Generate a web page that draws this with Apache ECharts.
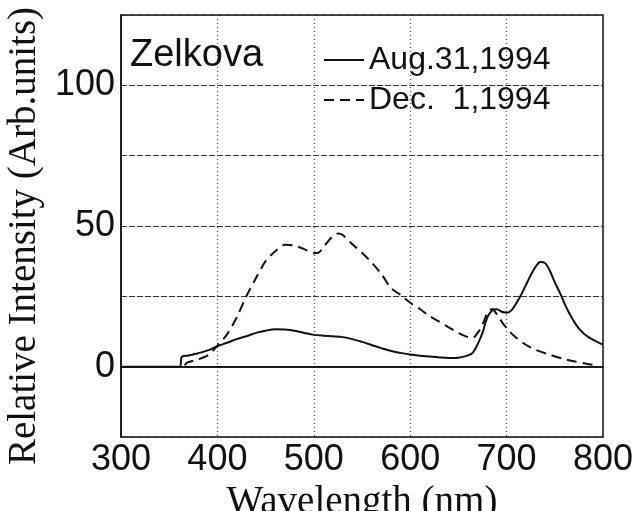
<!DOCTYPE html>
<html>
<head>
<meta charset="utf-8">
<script src="https://cdn.jsdelivr.net/npm/echarts@6/dist/echarts.min.js"></script>
<style>html,body{margin:0;padding:0;background:#fff}#c{width:640px;height:511px}</style>
</head>
<body>
<div id="c"></div>
<script>
const augX = [300,350,361,363,370,380,390,400,410,420,430,440,450,460,470,480,490,500,510,520,530,540,550,560,570,580,590,600,610,620,630,640,650,660,665,670,675,680,685,690,695,700,705,710,715,720,725,730,735,740,745,750,755,760,765,770,775,780,785,790,795,800];
const augY = [0,0,0,3.5,4,4.8,5.8,7.3,8.5,9.8,10.8,12,12.8,13.3,13.2,12.8,12,11.3,11,10.8,10.5,9.8,8.8,7.7,6.6,5.6,4.9,4.3,3.9,3.6,3.3,3.1,3.2,4.0,5,8,12,17.5,20,20.4,19.5,19.2,20,22.5,25.5,29,32.5,35.5,37.2,36.8,34,30,26.5,22.5,19,16,13.5,11.8,10.5,9.5,8.6,7.8];
const decX = [366,369,380,390,400,410,420,430,440,450,460,470,480,490,500,505,510,520,525,530,540,550,560,570,580,590,600,610,620,630,640,650,660,665,670,675,680,685,690,696,703,710,720,730,745,760,770,783,790];
const decY = [0.5,1.5,2.6,4,7.5,11.5,17.5,25,31.5,37.5,41,43.3,43,41.8,40.3,40.5,42.5,46.5,47.3,46.8,43.5,40.5,37,33,28,25.5,22.7,20.5,18,16,14,12,10.5,10.3,12,15,19,20.5,18.5,15.5,12.5,10.3,7.8,6,4.2,2.7,1.9,1,0.6];
const yLabels = [0,50,100];
const seriesNames = ['Aug.31,1994','Dec.  1,1994'];
const specimen = 'Zelkova';

const sans = 'Liberation Sans';
const serif = 'Liberation Serif';
const chart = echarts.init(document.getElementById('c'));
chart.setOption({
  animation: false,
  backgroundColor: '#fff',
  grid: {left: 121, right: 37, top: 15, bottom: 74, outerBoundsMode: 'none', containLabel: false,
    show: true, borderColor: '#111', borderWidth: 1.5, backgroundColor: 'transparent'},
  title: {text: specimen, left: 125, top: 32, textStyle: {fontFamily: sans, fontSize: 38, fontWeight: 'normal', color: '#111'}},
  legend: {
    left: 318, top: 37, orient: 'vertical', itemWidth: 40, itemHeight: 14, itemGap: 4,
    data: seriesNames,
    itemStyle: {opacity: 0},
    textStyle: {fontFamily: sans, fontSize: 32, color: '#111', lineHeight: 36}
  },
  xAxis: {
    type: 'value', min: 300, max: 800, interval: 100,
    name: 'Wavelength (nm)', nameLocation: 'middle', nameGap: 31,
    nameTextStyle: {fontFamily: serif, fontSize: 39, color: '#111'},
    axisLine: {show: true, lineStyle: {color: '#111', width: 1.5}},
    axisTick: {show: false},
    axisLabel: {fontFamily: sans, fontSize: 36, color: '#111', margin: 5},
    splitLine: {show: true, lineStyle: {color: '#444', type: [1, 3], width: 1.2}}
  },
  yAxis: {
    type: 'value', min: -25, max: 125, interval: 25,
    name: 'Relative Intensity (Arb.units)', nameLocation: 'middle', nameGap: 63,
    nameTextStyle: {fontFamily: serif, fontSize: 39, color: '#111', padding: [0, 20, 0, 0]},
    axisLine: {show: true, lineStyle: {color: '#111', width: 1.5}},
    axisTick: {show: false},
    axisLabel: {fontFamily: sans, fontSize: 36, color: '#111', margin: 6,
      formatter: v => yLabels.includes(v) ? String(v) : ''},
    splitLine: {show: true, lineStyle: {color: '#333', type: [6, 2], width: 1}}
  },
  series: [
    {
      name: seriesNames[0], type: 'line', showSymbol: false, symbol: 'none', smooth: 0.3,
      data: augX.map((x, i) => [x, augY[i]]),
      lineStyle: {color: '#111', width: 2, type: 'solid'},
      itemStyle: {color: '#111'},
      markLine: {silent: true, symbol: 'none', label: {show: false},
        lineStyle: {color: '#111', width: 1.5, type: 'solid'}, data: [{yAxis: 0}]}
    },
    {
      name: seriesNames[1], type: 'line', showSymbol: false, symbol: 'none', smooth: 0.3,
      data: decX.map((x, i) => [x, decY[i]]),
      lineStyle: {color: '#111', width: 2, type: [10, 6]},
      itemStyle: {color: '#111'}
    }
  ]
});
</script>
</body>
</html>
